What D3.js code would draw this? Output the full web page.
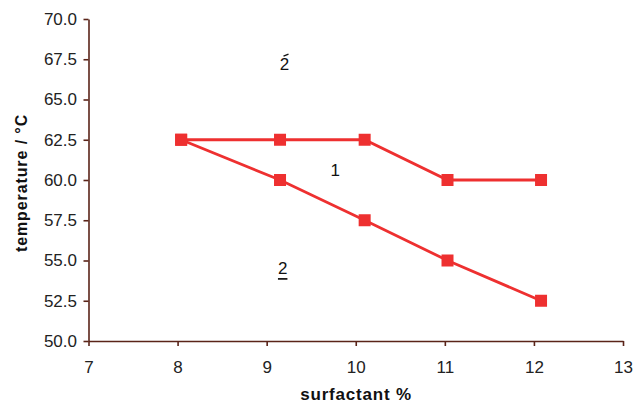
<!DOCTYPE html>
<html><head><meta charset="utf-8">
<script src="https://cdn.jsdelivr.net/npm/d3@7"></script>
<style>body{margin:0;background:#fff}svg{display:block}</style>
</head><body>
<svg id="c" width="636" height="404"></svg>
<script>
const surfactant = [8.04, 9.15, 10.1, 11.03, 12.08];
const boundaryUpper = [62.5, 62.5, 62.5, 60.0, 60.0];
const boundaryLower = [62.5, 60.0, 57.5, 55.0, 52.5];
const xTicks = [7, 8, 9, 10, 11, 12, 13];
const yTicks = [50, 52.5, 55, 57.5, 60, 62.5, 65, 67.5, 70];
const regionLabels = [
  {t: "2", x: 9.2, y: 67.2, deco: "over"},
  {t: "1", x: 9.77, y: 60.6, deco: ""},
  {t: "2", x: 9.18, y: 54.5, deco: "under"}
];

const FONT = "Arial, 'Liberation Sans', sans-serif";
const svg = d3.select("#c");
const x = d3.scaleLinear().domain([7, 13]).range([88.5, 623]);
const y = d3.scaleLinear().domain([50, 70]).range([341, 19]);
const axisCol = "#5a2418";
const red = "#ee3030";

const gx = svg.append("g").attr("transform", "translate(0,341)")
  .call(d3.axisBottom(x).tickValues(xTicks).tickFormat(d3.format("d")).tickSize(5).tickSizeOuter(0));
const gy = svg.append("g").attr("transform", "translate(88.5,0)")
  .call(d3.axisLeft(y).tickValues(yTicks).tickFormat(d3.format(".1f")).tickSize(5).tickSizeOuter(0));
[gx, gy].forEach(g => {
  g.select(".domain").attr("stroke", axisCol).attr("stroke-width", 1.6);
  g.selectAll(".tick line").attr("stroke", axisCol).attr("stroke-width", 1.6);
  g.selectAll(".tick text").attr("fill", "#222").style("font-family", FONT).style("font-size", "17px");
});
gx.selectAll(".tick text").attr("y", 20).attr("dy", "0.71em");
gy.selectAll(".tick text").attr("x", -11.5);

const line = d3.line().x(d => x(d[0])).y(d => y(d[1]));
[boundaryUpper, boundaryLower].forEach(vals => {
  const pts = surfactant.map((s, i) => [s, vals[i]]);
  svg.append("path").datum(pts).attr("d", line).attr("fill", "none").attr("stroke", red).attr("stroke-width", 2.8);
  svg.selectAll(null).data(pts).enter().append("rect")
    .attr("x", d => x(d[0]) - 6).attr("y", d => y(d[1]) - 6)
    .attr("width", 12).attr("height", 12).attr("fill", red);
});

regionLabels.forEach(l => {
  const t = svg.append("text").attr("x", x(l.x)).attr("y", y(l.y))
    .attr("text-anchor", "middle").attr("dominant-baseline", "central")
    .style("font-family", FONT).style("font-size", "17px").attr("fill", "#111")
    .text(l.t);
  if (l.deco === "under") t.style("text-decoration", "underline");
  if (l.deco === "over") {
    svg.append("path").attr("d", `M${x(l.x)-1},${y(l.y)-8} l5,-2`).attr("stroke", "#111").attr("stroke-width", 1.3);
  }
});

svg.append("text").attr("x", 356).attr("y", 400).attr("text-anchor", "middle")
  .style("font-family", FONT).style("font-size", "17px").style("font-weight", "bold")
  .style("letter-spacing", "0.8px")
  .attr("fill", "#111").text("surfactant %");
svg.append("text").attr("transform", "translate(27,183) rotate(-90)").attr("text-anchor", "middle")
  .style("font-family", FONT).style("font-size", "16px").style("font-weight", "bold")
  .style("letter-spacing", "0.9px")
  .attr("fill", "#111").text("temperature / °C");
</script>
</body></html>
